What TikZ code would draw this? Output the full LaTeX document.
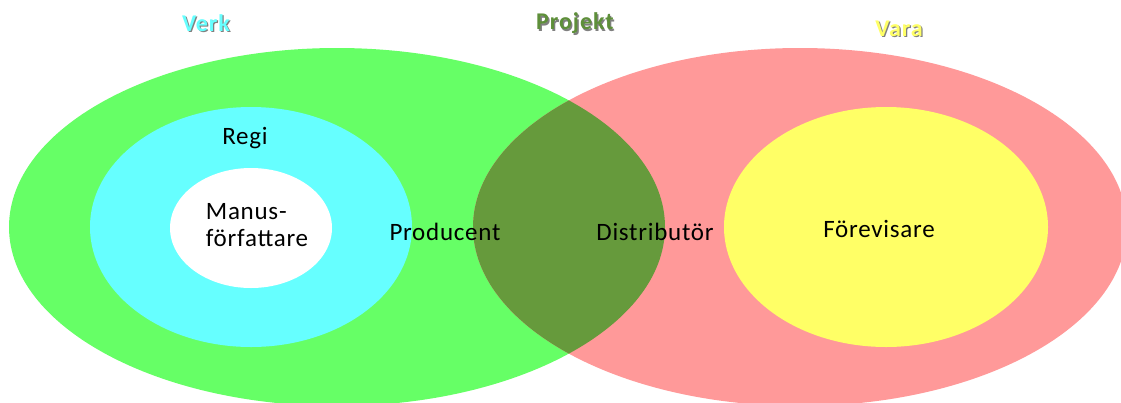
\documentclass[tikz,border=0pt]{standalone}
\usepackage{fontspec}
\setmainfont{Carlito}
\newfontfamily\lblfont[LetterSpace=3]{Carlito}
\newfontfamily\ttlfont[LetterSpace=4]{Carlito}
\definecolor{cgreen}{HTML}{66FF66}
\definecolor{cred}{HTML}{FF9999}
\definecolor{ccyan}{HTML}{66FFFF}
\definecolor{cyellow}{HTML}{FFFF66}
\definecolor{cdark}{HTML}{669A3C}
\definecolor{cproj}{HTML}{5E8F3A}
\definecolor{cshadow}{HTML}{808080}
\newcommand\shtext[2]{\rlap{\hspace{1.3pt}\raisebox{-1.3pt}{\color{cshadow}#2}}{\color{#1}#2}}
\tikzset{
  lbl/.style={font=\fontsize{25}{27}\selectfont\lblfont, text=black, inner sep=0pt, align=center},
  ttl/.style={font=\fontsize{24}{26}\selectfont\ttlfont\bfseries, inner sep=0pt},
}
\begin{document}
\begin{tikzpicture}[x=1pt,y=-1pt]
\useasboundingbox (0,0) rectangle (1121,402);
\fill[cgreen] (337,227) ellipse [x radius=328pt, y radius=179pt];
\fill[cred] (800,227) ellipse [x radius=327pt, y radius=179pt];
\begin{scope}
  \clip (337,227) ellipse [x radius=328pt, y radius=179pt];
  \fill[cdark] (800,227) ellipse [x radius=327pt, y radius=179pt];
\end{scope}
\fill[ccyan] (251,227) ellipse [x radius=161pt, y radius=120pt];
\fill[white] (251,228) ellipse [x radius=81pt, y radius=60pt];
\fill[cyellow] (886,227) ellipse [x radius=162pt, y radius=120pt];

\node[ttl] (verk) at (206,24) {\shtext{ccyan}{Verk}};
\node[ttl] (projekt) at (575,24) {\shtext{cproj}{Projekt}};
\node[ttl] (vara) at (899,29) {\shtext{cyellow}{Vara}};

\node[lbl] (regi) at (245,138) {Regi};
\node[lbl, align=left] (manus) at (257,225) {Manus-\\författare};
\node[lbl] (producent) at (445,232) {Producent};
\node[lbl] (distributor) at (655,232) {Distributör};
\node[lbl] (forevisare) at (879,229) {Förevisare};
\end{tikzpicture}
\end{document}
